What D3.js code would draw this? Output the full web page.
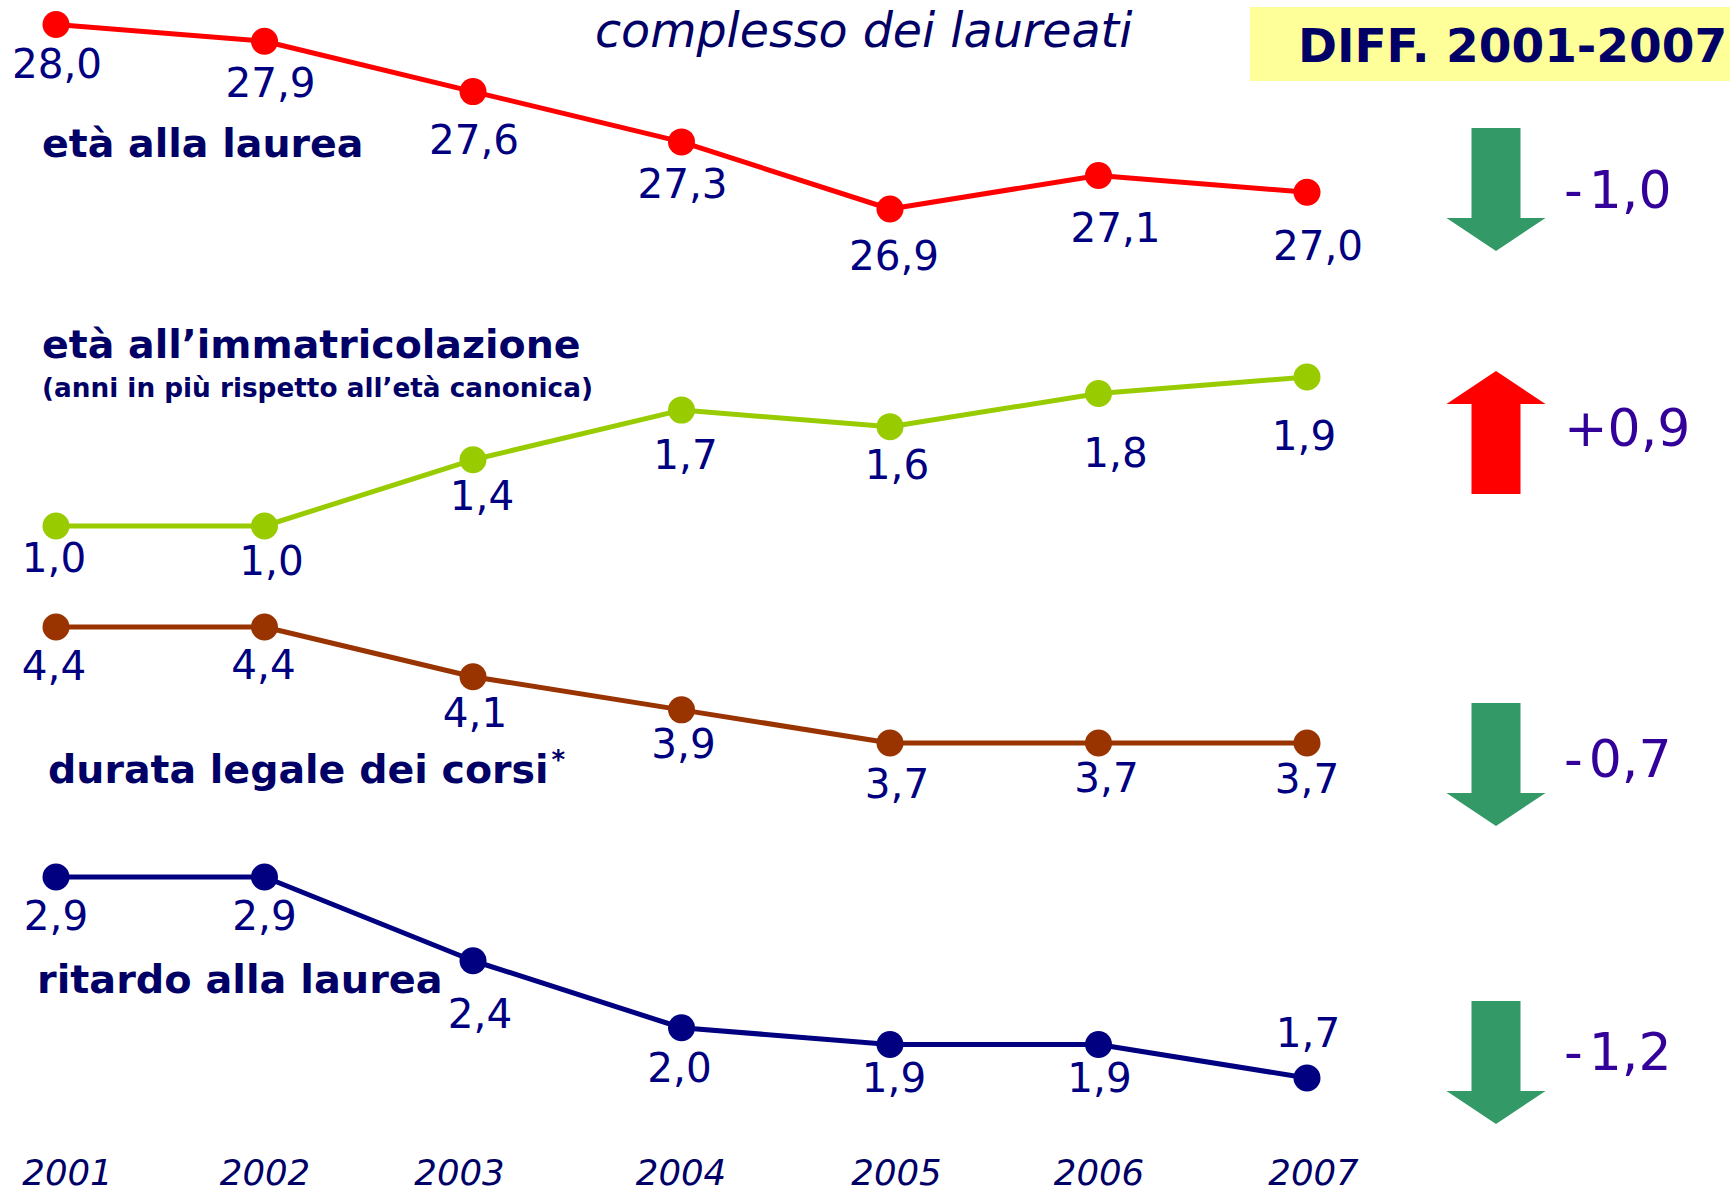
<!DOCTYPE html>
<html>
<head>
<meta charset="utf-8">
<script src="https://cdn.jsdelivr.net/npm/d3@7"></script>
<style>
  html, body { margin: 0; padding: 0; background: #fff; }
  svg { display: block; }
  text { font-family: "DejaVu Sans", Verdana, sans-serif; }
</style>
</head>
<body>
<svg id="chart"></svg>
<script>
// Data
const years = [2001, 2002, 2003, 2004, 2005, 2006, 2007];
const etaLaurea = [28.0, 27.9, 27.6, 27.3, 26.9, 27.1, 27.0];
const etaImmatricolazione = [1.0, 1.0, 1.4, 1.7, 1.6, 1.8, 1.9];
const durataLegale = [4.4, 4.4, 4.1, 3.9, 3.7, 3.7, 3.7];
const ritardoLaurea = [2.9, 2.9, 2.4, 2.0, 1.9, 1.9, 1.7];

const chartTitle = 'complesso dei laureati';
const diffTitle = 'DIFF. 2001-2007';

const width = 1730;
const height = 1193;

// Layout for each of the four stacked panels
const panels = [
    {
        values: etaLaurea, color: '#ff0000', range: [209, 24.5],
        title: [{ text: 'età alla laurea', x: 42, y: 157, size: 39.5 }],
        labelOffsets: [[1, 53], [6, 56], [1, 62], [1, 56], [4, 61], [17, 67], [11, 68]],
        arrowTop: 128, diffY: 208
    },
    {
        values: etaImmatricolazione, color: '#99cc00', range: [526, 377],
        title: [
            { text: 'età all’immatricolazione', x: 42, y: 358, size: 39.5 },
            { text: '(anni in più rispetto all’età canonica)', x: 42, y: 397, size: 26.3 }
        ],
        labelOffsets: [[-2, 46], [7, 49], [9, 50], [4, 59], [7, 52], [17, 73], [-3, 73]],
        arrowTop: 371, diffY: 446
    },
    {
        values: durataLegale, color: '#993300', range: [743, 627],
        title: [{ text: 'durata legale dei corsi', x: 48, y: 783, size: 39.5, star: true }],
        labelOffsets: [[-2, 53], [-1, 52], [2, 50], [2, 48], [7, 55], [8, 49], [0, 50]],
        arrowTop: 703, diffY: 777
    },
    {
        values: ritardoLaurea, color: '#000080', range: [1078, 877],
        title: [{ text: 'ritardo alla laurea', x: 37, y: 993, size: 39.8 }],
        labelOffsets: [[0, 53], [0, 53], [7, 67], [-2, 54], [4, 47], [1, 47], [1, -31]],
        arrowTop: 1001, diffY: 1070
    }
];

const yearNudge = [11, 0, -14, -1, 6, 0, 6];

const it = d3.formatLocale({
    decimal: ',', thousands: '.', grouping: [3], currency: ['', ' €'], minus: '-'
});
const fmtValue = it.format('.1f');
const fmtDiff = it.format('+.1f');

const svg = d3.select('#chart')
    .attr('width', width)
    .attr('height', height)
    .style('background', '#fff');

const x = d3.scaleLinear()
    .domain([2001, 2007])
    .range([56, 1307]);

// Header
svg.append('text')
    .attr('x', 595)
    .attr('y', 47)
    .attr('font-size', 47.5)
    .attr('font-style', 'italic')
    .attr('fill', '#000066')
    .text(chartTitle);

svg.append('rect')
    .attr('x', 1250)
    .attr('y', 7)
    .attr('width', width - 1250)
    .attr('height', 74)
    .attr('fill', '#ffff99');

svg.append('text')
    .attr('x', 1298)
    .attr('y', 62)
    .attr('font-size', 47)
    .attr('font-weight', 'bold')
    .attr('fill', '#000066')
    .text(diffTitle);

// Panels
panels.forEach(panel => {
    const y = d3.scaleLinear()
        .domain(d3.extent(panel.values))
        .range(panel.range);

    const points = years.map((yr, i) => ({ year: yr, value: panel.values[i], off: panel.labelOffsets[i] }));

    const g = svg.append('g');

    panel.title.forEach(t => {
        const txt = g.append('text')
            .attr('x', t.x)
            .attr('y', t.y)
            .attr('font-size', t.size)
            .attr('font-weight', 'bold')
            .attr('fill', '#000066')
            .text(t.text);
        if (t.star) {
            txt.append('tspan')
                .attr('font-size', 26)
                .attr('dx', 3)
                .attr('dy', -14)
                .text('*');
        }
    });

    const line = d3.line()
        .x(d => x(d.year))
        .y(d => y(d.value));

    g.append('path')
        .datum(points)
        .attr('d', line)
        .attr('fill', 'none')
        .attr('stroke', panel.color)
        .attr('stroke-width', 5)
        .attr('stroke-linejoin', 'round');

    g.selectAll('circle')
        .data(points)
        .enter()
        .append('circle')
        .attr('cx', d => x(d.year))
        .attr('cy', d => y(d.value))
        .attr('r', 13.5)
        .attr('fill', panel.color);

    g.selectAll('.value-label')
        .data(points)
        .enter()
        .append('text')
        .attr('class', 'value-label')
        .attr('x', d => x(d.year) + d.off[0])
        .attr('y', d => y(d.value) + d.off[1])
        .attr('text-anchor', 'middle')
        .attr('font-size', 40.5)
        .attr('fill', '#000080')
        .text(d => fmtValue(d.value));

    // Difference between first and last year, with arrow
    const diff = panel.values[panel.values.length - 1] - panel.values[0];
    const cx = 1496, shaftW = 49, headW = 99, shaftH = 90, headH = 33;
    const top = panel.arrowTop;
    let pts;
    if (diff < 0) {
        pts = [
            [cx - shaftW / 2, top], [cx + shaftW / 2, top],
            [cx + shaftW / 2, top + shaftH], [cx + headW / 2, top + shaftH],
            [cx, top + shaftH + headH],
            [cx - headW / 2, top + shaftH], [cx - shaftW / 2, top + shaftH]
        ];
    } else {
        pts = [
            [cx, top], [cx + headW / 2, top + headH],
            [cx + shaftW / 2, top + headH], [cx + shaftW / 2, top + headH + shaftH],
            [cx - shaftW / 2, top + headH + shaftH], [cx - shaftW / 2, top + headH],
            [cx - headW / 2, top + headH]
        ];
    }
    g.append('path')
        .attr('d', d3.line()(pts) + 'Z')
        .attr('fill', diff < 0 ? '#339966' : '#ff0000');

    // the sign gets a little extra room, as in the original
    const diffText = fmtDiff(diff);
    const diffLabel = g.append('text')
        .attr('x', 1564)
        .attr('y', panel.diffY)
        .attr('font-size', 52)
        .attr('fill', '#330099');
    diffLabel.append('tspan').text(diffText.charAt(0));
    diffLabel.append('tspan')
        .attr('dx', diff < 0 ? 6 : 0)
        .text(diffText.slice(1));
});

// Year axis along the bottom
const axis = svg.append('g')
    .attr('transform', 'translate(0,1185)')
    .call(d3.axisBottom(x).tickValues(years).tickFormat(d3.format('d')).tickSize(0));

axis.select('.domain').remove();
axis.selectAll('.tick text')
    .attr('y', 0)
    .attr('dy', 0)
    .attr('dx', (d, i) => yearNudge[i])
    .attr('font-family', '"DejaVu Sans", Verdana, sans-serif')
    .attr('font-size', 35.5)
    .attr('font-style', 'italic')
    .attr('fill', '#000066');
</script>
</body>
</html>
